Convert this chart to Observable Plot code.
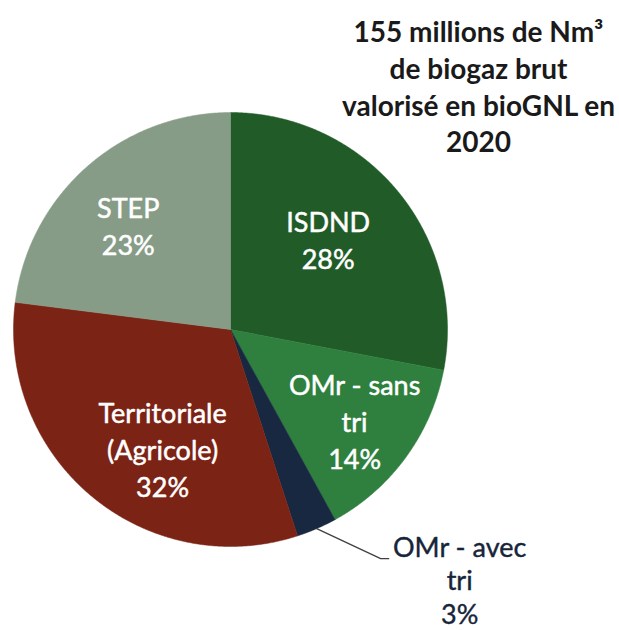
<!DOCTYPE html>
<html>
<head>
<meta charset="utf-8">
<script src="https://cdn.jsdelivr.net/npm/d3@7"></script>
<script src="https://cdn.jsdelivr.net/npm/@observablehq/plot@0.6"></script>
<style>
  html, body { margin: 0; padding: 0; background: #fff; }
  #chart { width: 619px; height: 630px; }
</style>
</head>
<body>
<div id="chart"></div>
<script>
// ---- data ----
const categories = ["ISDND", "OMr - sans tri", "OMr - avec tri", "Territoriale (Agricole)", "STEP"];
const shares = [28, 14, 3, 32, 23];
const labelLines = [
  ["ISDND", "28%"],
  ["OMr - sans", "tri", "14%"],
  ["OMr - avec", "tri", "3%"],
  ["Territoriale", "(Agricole)", "32%"],
  ["STEP", "23%"]
];
const colors = ["#215b28", "#2f7f3e", "#172840", "#7b2314", "#879c87"];
const titleLines = ["155 millions de Nm³", "de biogaz brut", "valorisé en bioGNL en", "2020"];

// ---- layout ----
const W = 619, H = 630, R = 217, CX = 230, CY = 329;
const FONT = "Lato, 'Open Sans', sans-serif";
// label offsets (px) from a point at 0.65 radius along the slice mid-angle
const labelOffset = {
  "ISDND": [-11, -1],
  "OMr - sans tri": [10, 8],
  "Territoriale (Agricole)": [22, 10],
  "STEP": [-9, 1]
};
const outside = "OMr - avec tri";

const data = categories.map((c, i) => ({name: c, share: shares[i], color: colors[i], label: labelLines[i].join("\n")}));
const arcs = d3.pie().sort(null).value(d => d.share)(data);

function slicePoints(a) {
  const pts = [{x: 0, y: 0}];
  const n = Math.max(2, Math.ceil((a.endAngle - a.startAngle) / 0.005));
  for (let k = 0; k <= n; k++) {
    const t = a.startAngle + (a.endAngle - a.startAngle) * k / n;
    pts.push({x: Math.sin(t), y: Math.cos(t)});
  }
  pts.push({x: 0, y: 0});
  return pts;
}

const inside = [];
let leader = [], outsideLabel = [];
for (const a of arcs) {
  const m = (a.startAngle + a.endAngle) / 2;
  if (a.data.name === outside) {
    const ex = Math.sin(m), ey = Math.cos(m);
    const elbow = {x: ex + 64 / R, y: ey - 30 / R};
    leader = [{x: ex, y: ey}, elbow, {x: elbow.x + 8 / R, y: elbow.y}];
    outsideLabel = [{x: elbow.x + 79 / R, y: elbow.y - 21 / R, label: a.data.label}];
  } else {
    const [dx, dy] = labelOffset[a.data.name];
    inside.push({x: 0.65 * Math.sin(m) + dx / R, y: 0.65 * Math.cos(m) - dy / R, label: a.data.label});
  }
}

const chart = Plot.plot({
  width: W,
  height: H,
  margin: 0,
  style: {fontFamily: FONT, background: "#fff"},
  x: {domain: [-CX / R, (W - CX) / R], axis: null},
  y: {domain: [-(H - CY) / R, CY / R], axis: null},
  marks: [
    ...arcs.map(a => Plot.line(slicePoints(a), {x: "x", y: "y", fill: a.data.color, stroke: a.data.color, strokeWidth: 0.5, curve: "linear"})),
    Plot.text(inside, {x: "x", y: "y", text: "label", fill: "white", stroke: "white", strokeWidth: 0.5, paintOrder: "normal", fontSize: 27, lineHeight: 1.36, lineAnchor: "middle", textAnchor: "middle", fontFamily: FONT}),
    Plot.line(leader, {x: "x", y: "y", stroke: "#404040", strokeWidth: 1.3}),
    Plot.text(outsideLabel, {x: "x", y: "y", text: "label", fill: "#17253a", stroke: "#17253a", strokeWidth: 0.4, paintOrder: "normal", fontSize: 27, lineHeight: 1.24, lineAnchor: "middle", textAnchor: "middle", fontFamily: FONT}),
    Plot.text([titleLines.join("\n")], {x: (478 - CX) / R, y: (CY - 85) / R, text: d => d, fill: "#1a1a1a", fontSize: 28, fontWeight: "bold", lineHeight: 1.31, lineAnchor: "middle", textAnchor: "middle", fontFamily: FONT})
  ]
});
document.getElementById("chart").appendChild(chart);
</script>
</body>
</html>
